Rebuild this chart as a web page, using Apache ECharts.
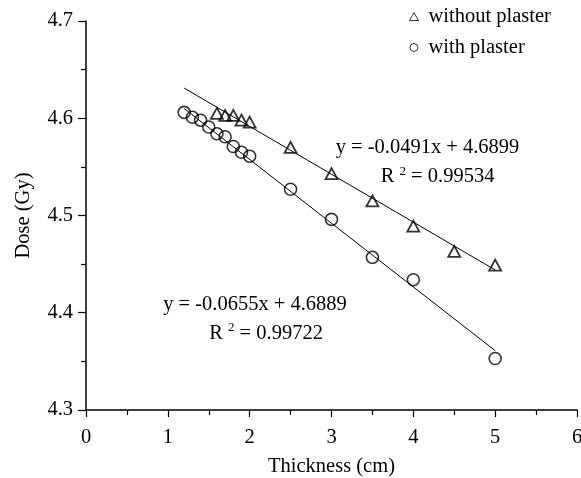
<!DOCTYPE html>
<html>
<head>
<meta charset="utf-8">
<script src="https://cdn.jsdelivr.net/npm/echarts@6/dist/echarts.min.js"></script>
<style>html,body{margin:0;padding:0;background:#fff}#c{width:581px;height:478px}</style>
</head>
<body>
<div id="c"></div>
<script>
// Data
var seriesNames = ['without plaster', 'with plaster'];
var withoutX = [1.6, 1.7, 1.8, 1.9, 2.0, 2.5, 3.0, 3.5, 4.0, 4.5, 5.0];
var withoutY = [4.605, 4.603, 4.603, 4.598, 4.596, 4.570, 4.543, 4.515, 4.489, 4.463, 4.449];
var withX = [1.2, 1.3, 1.4, 1.5, 1.6, 1.7, 1.8, 1.9, 2.0, 2.5, 3.0, 3.5, 4.0, 5.0];
var withY = [4.606, 4.601, 4.598, 4.591, 4.584, 4.581, 4.571, 4.565, 4.561, 4.527, 4.496, 4.457, 4.434, 4.353];
// Trend line end points (as drawn)
var withoutFitX = [1.2, 5.0];
var withoutFitY = [4.631, 4.444];
var withFitX = [1.2, 5.0];
var withFitY = [4.610, 4.361];
// Annotations
var withoutEq = 'y = -0.0491x + 4.6899';
var withoutR2 = '0.99534';
var withEq = 'y = -0.0655x + 4.6889';
var withR2 = '0.99722';
var withoutEqPos = [4.173, 4.5694];
var withoutR2Pos = [4.296, 4.5399];
var withEqPos = [2.065, 4.408];
var withR2Pos = [2.20, 4.379];

function zip(xs, ys) { return xs.map(function (x, i) { return [x, ys[i]]; }); }

var FONT = 'Liberation Serif';
var FS = 20.5;
var rich = {
  r: { fontFamily: FONT, fontSize: FS, color: '#000', lineHeight: 22 },
  s: { fontFamily: FONT, fontSize: 13, color: '#000', padding: [0, 0, 11, 0] }
};
function eqPoint(pos, text) {
  return { coord: pos, label: { formatter: '{r|' + text + '}' } };
}
function r2Point(pos, val) {
  return { coord: pos, label: { formatter: '{r|R }{s|2}{r| = ' + val + '}' } };
}

var chart = echarts.init(document.getElementById('c'), null, { renderer: 'canvas' });
var axisLine = { lineStyle: { color: '#000', width: 1.5 } };
chart.setOption({
  animation: false,
  backgroundColor: '#fff',
  textStyle: { fontFamily: FONT, color: '#000' },
  legend: {
    data: seriesNames,
    orient: 'vertical',
    left: 404,
    top: 1,
    itemGap: 10,
    itemWidth: 9,
    itemHeight: 8,
    textStyle: { fontFamily: FONT, fontSize: FS, color: '#000', padding: [0, 0, 0, 5] },
    itemStyle: { borderWidth: 1 }
  },
  grid: { left: 86, right: 4, top: 21, bottom: 68, containLabel: false, outerBoundsMode: 'none' },
  xAxis: {
    type: 'value', min: 0, max: 6, interval: 1,
    name: 'Thickness (cm)', nameLocation: 'middle', nameGap: 46,
    nameTextStyle: { fontFamily: FONT, fontSize: FS, color: '#000' },
    axisLine: axisLine,
    axisTick: { show: true, length: 7, lineStyle: { color: '#000', width: 1.2 } },
    minorTick: { show: true, splitNumber: 2, length: 5, lineStyle: { color: '#000', width: 1.2 } },
    splitLine: { show: false },
    axisLabel: { fontFamily: FONT, fontSize: FS, color: '#000', margin: 17 }
  },
  yAxis: {
    type: 'value', min: 4.3, max: 4.7, interval: 0.1,
    name: 'Dose (Gy)', nameLocation: 'middle', nameGap: 52, nameRotate: 90,
    nameTextStyle: { fontFamily: FONT, fontSize: FS, color: '#000' },
    axisLine: axisLine,
    axisTick: { show: true, length: 8, lineStyle: { color: '#000', width: 1.2 } },
    minorTick: { show: true, splitNumber: 2, length: 5, lineStyle: { color: '#000', width: 1.2 } },
    splitLine: { show: false },
    axisLabel: { fontFamily: FONT, fontSize: FS, color: '#000', margin: 13,
      formatter: function (v) { return v.toFixed(1); } }
  },
  series: [
    {
      name: 'without plaster fit', type: 'line', data: zip(withoutFitX, withoutFitY),
      symbol: 'none', lineStyle: { color: '#000', width: 1 }, z: 1, silent: true,
      markPoint: {
        symbol: 'circle', symbolSize: 0,
        label: { show: true, position: 'inside', rich: rich },
        data: [eqPoint(withoutEqPos, withoutEq), r2Point(withoutR2Pos, withoutR2)]
      }
    },
    {
      name: 'with plaster fit', type: 'line', data: zip(withFitX, withFitY),
      symbol: 'none', lineStyle: { color: '#000', width: 1 }, z: 1, silent: true,
      markPoint: {
        symbol: 'circle', symbolSize: 0,
        label: { show: true, position: 'inside', rich: rich },
        data: [eqPoint(withEqPos, withEq), r2Point(withR2Pos, withR2)]
      }
    },
    {
      name: seriesNames[0], type: 'scatter', data: zip(withoutX, withoutY),
      symbol: 'triangle', symbolSize: [12, 11],
      itemStyle: { color: 'rgba(255,255,255,0)', borderColor: '#000', borderWidth: 1.8 }, z: 3
    },
    {
      name: seriesNames[1], type: 'scatter', data: zip(withX, withY),
      symbol: 'circle', symbolSize: 12,
      itemStyle: { color: 'rgba(255,255,255,0)', borderColor: '#000', borderWidth: 1.6 }, z: 3
    }
  ]
});
</script>
</body>
</html>
